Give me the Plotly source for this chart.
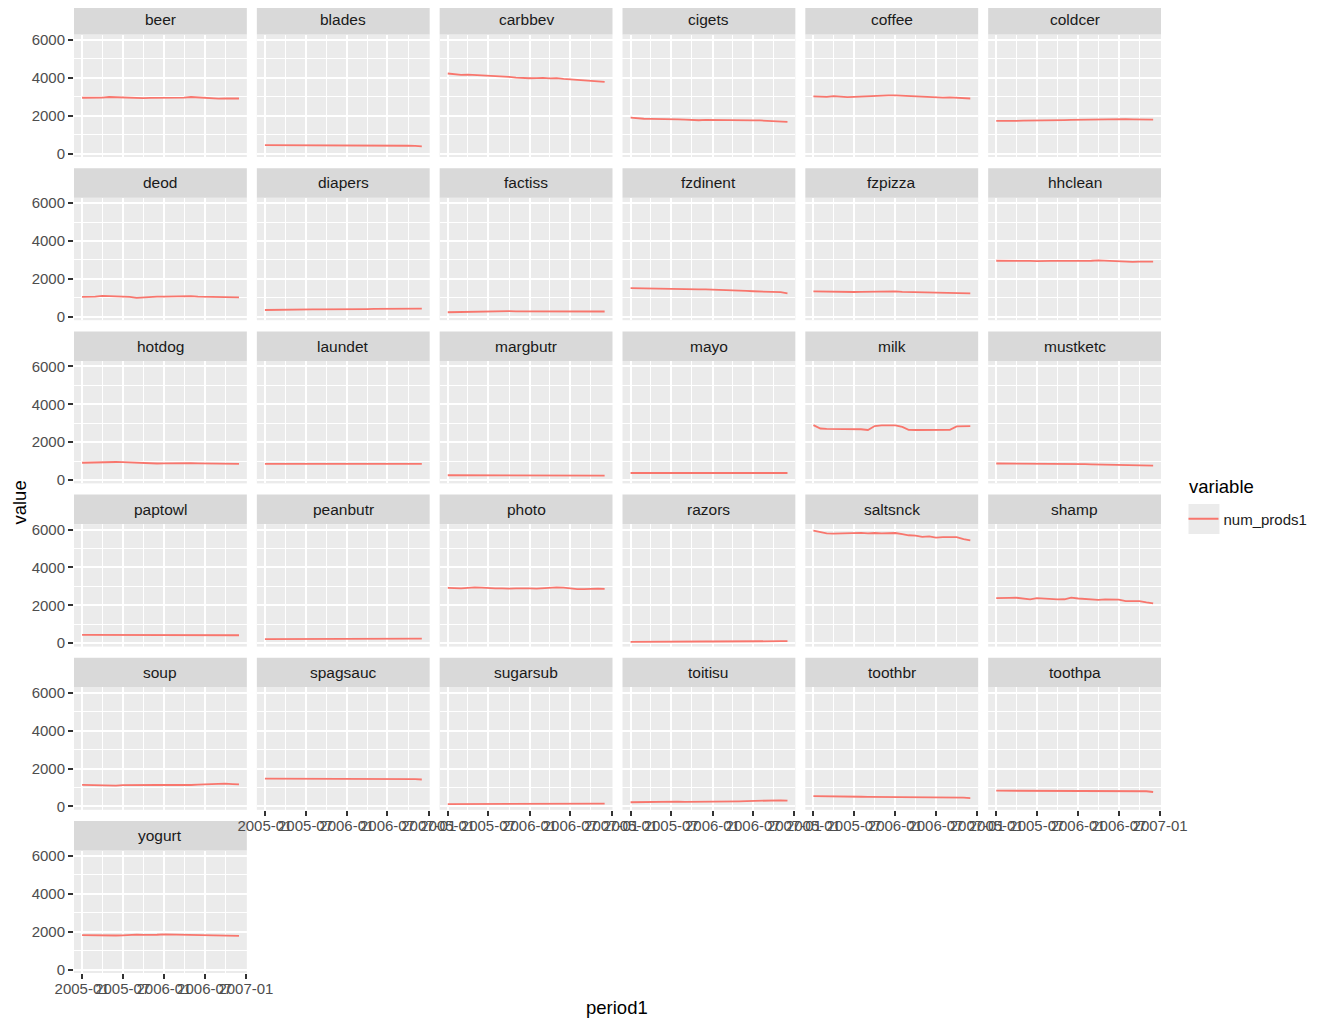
import plotly.graph_objects as go

# ---------------- data ----------------
months = ["2005-%02d-01" % m for m in range(1, 13)] + ["2006-%02d-01" % m for m in range(1, 13)]

categories = ["beer", "blades", "carbbev", "cigets", "coffee", "coldcer",
              "deod", "diapers", "factiss", "fzdinent", "fzpizza", "hhclean",
              "hotdog", "laundet", "margbutr", "mayo", "milk", "mustketc",
              "paptowl", "peanbutr", "photo", "razors", "saltsnck", "shamp",
              "soup", "spagsauc", "sugarsub", "toitisu", "toothbr", "toothpa",
              "yogurt"]

beer = [2950, 2940, 2940, 2960, 2990, 2980, 2940, 2930, 2930, 2930, 2940, 2940, 2950, 2950, 2950, 2960, 2990, 2970, 2950, 2910, 2900, 2920, 2930, 2910]
blades = [450, 450, 445, 445, 440, 440, 440, 440, 440, 440, 440, 445, 450, 440, 430, 430, 425, 420, 420, 420, 420, 415, 410, 380]
carbbev = [4230, 4180, 4160, 4170, 4150, 4160, 4140, 4120, 4100, 4050, 4010, 3990, 3980, 3990, 4000, 3970, 3990, 3950, 3930, 3900, 3880, 3860, 3830, 3790]
cigets = [1900, 1850, 1840, 1830, 1830, 1830, 1820, 1810, 1790, 1770, 1760, 1780, 1770, 1760, 1780, 1770, 1770, 1760, 1750, 1750, 1740, 1730, 1710, 1680]
coffee = [3020, 3010, 3000, 3030, 3000, 2980, 3000, 3020, 3020, 3060, 3090, 3080, 3070, 3050, 3020, 3000, 3000, 2990, 2970, 2960, 2970, 2950, 2940, 2910]
coldcer = [1730, 1720, 1720, 1730, 1740, 1740, 1750, 1760, 1770, 1770, 1770, 1780, 1790, 1800, 1800, 1810, 1810, 1820, 1820, 1820, 1810, 1800, 1800, 1790]
deod = [1050, 1040, 1060, 1100, 1090, 1080, 1070, 1050, 1000, 1030, 1050, 1060, 1070, 1080, 1090, 1100, 1090, 1070, 1060, 1080, 1070, 1060, 1050, 1030]
diapers = [360, 370, 380, 380, 380, 390, 390, 390, 390, 390, 380, 380, 390, 390, 400, 410, 420, 420, 430, 430, 440, 440, 440, 430]
factiss = [240, 250, 260, 270, 270, 280, 290, 290, 300, 300, 290, 290, 280, 280, 270, 270, 270, 280, 280, 290, 290, 300, 300, 280]
fzdinent = [1510, 1500, 1500, 1490, 1490, 1480, 1480, 1470, 1470, 1460, 1450, 1450, 1440, 1440, 1430, 1410, 1390, 1370, 1350, 1340, 1330, 1320, 1300, 1240]
fzpizza = [1340, 1330, 1320, 1310, 1300, 1310, 1310, 1320, 1330, 1340, 1350, 1350, 1340, 1320, 1310, 1300, 1290, 1290, 1280, 1280, 1270, 1260, 1260, 1240]
hhclean = [2960, 2960, 2970, 2980, 2970, 2950, 2940, 2930, 2950, 2950, 2950, 2940, 2930, 2930, 2960, 2980, 2960, 2950, 2920, 2900, 2900, 2910, 2920, 2910]
hotdog = [910, 920, 940, 960, 960, 950, 940, 920, 900, 880, 870, 870, 880, 890, 900, 900, 890, 880, 880, 870, 860, 860, 850, 850]
laundet = [850, 850, 850, 850, 850, 850, 850, 850, 850, 850, 845, 845, 850, 855, 860, 860, 860, 860, 865, 870, 875, 870, 860, 850]
margbutr = [250, 250, 250, 245, 245, 245, 245, 240, 240, 240, 240, 240, 240, 240, 240, 240, 240, 235, 235, 235, 235, 235, 235, 230]
mayo = [370, 370, 370, 365, 360, 360, 355, 355, 350, 350, 350, 355, 360, 370, 380, 380, 380, 380, 380, 375, 375, 375, 375, 370]
milk = [2900, 2720, 2700, 2700, 2700, 2690, 2690, 2680, 2640, 2850, 2880, 2890, 2880, 2800, 2650, 2640, 2640, 2640, 2640, 2640, 2650, 2830, 2850, 2840]
mustketc = [870, 870, 870, 870, 870, 860, 860, 860, 850, 850, 850, 840, 840, 840, 830, 820, 820, 820, 810, 800, 800, 790, 780, 760]
paptowl = [440, 440, 435, 430, 430, 425, 425, 425, 420, 420, 420, 420, 425, 430, 435, 440, 440, 435, 430, 430, 425, 425, 425, 420]
peanbutr = [220, 220, 225, 225, 225, 230, 230, 230, 230, 235, 235, 240, 240, 240, 245, 245, 245, 250, 250, 250, 250, 250, 250, 245]
photo = [2920, 2900, 2890, 2920, 2950, 2930, 2900, 2890, 2900, 2880, 2900, 2910, 2900, 2880, 2900, 2930, 2950, 2930, 2890, 2860, 2860, 2880, 2880, 2870]
razors = [70, 75, 75, 80, 80, 80, 85, 85, 85, 90, 90, 90, 90, 95, 95, 95, 95, 100, 100, 100, 100, 105, 105, 105]
saltsnck = [5950, 5850, 5800, 5790, 5800, 5790, 5810, 5830, 5800, 5820, 5800, 5810, 5820, 5760, 5700, 5680, 5620, 5640, 5580, 5600, 5580, 5600, 5500, 5430]
shamp = [2380, 2370, 2390, 2400, 2350, 2320, 2380, 2350, 2340, 2310, 2320, 2410, 2360, 2330, 2300, 2290, 2310, 2310, 2300, 2220, 2230, 2220, 2150, 2100]
soup = [1140, 1130, 1100, 1080, 1070, 1100, 1120, 1130, 1130, 1130, 1130, 1130, 1130, 1130, 1120, 1110, 1130, 1150, 1170, 1190, 1210, 1200, 1180, 1160]
spagsauc = [1470, 1470, 1470, 1465, 1460, 1460, 1460, 1455, 1455, 1455, 1450, 1450, 1450, 1450, 1450, 1450, 1450, 1450, 1445, 1445, 1440, 1440, 1440, 1420]
sugarsub = [120, 120, 125, 125, 125, 125, 130, 130, 130, 130, 130, 130, 130, 130, 130, 135, 135, 135, 135, 140, 140, 145, 145, 150]
toitisu = [220, 230, 240, 250, 250, 250, 250, 250, 240, 240, 240, 250, 250, 260, 260, 270, 270, 280, 290, 300, 320, 330, 320, 300]
toothbr = [540, 540, 530, 530, 530, 520, 520, 510, 500, 500, 500, 500, 500, 490, 490, 500, 500, 500, 500, 490, 480, 470, 460, 440]
toothpa = [830, 830, 830, 830, 830, 830, 820, 830, 820, 810, 800, 790, 790, 790, 790, 790, 800, 800, 800, 800, 810, 810, 800, 760]
yogurt = [1820, 1810, 1810, 1800, 1800, 1800, 1810, 1840, 1850, 1830, 1820, 1840, 1860, 1850, 1840, 1830, 1820, 1820, 1830, 1830, 1820, 1800, 1790, 1780]

series = [beer, blades, carbbev, cigets, coffee, coldcer,
          deod, diapers, factiss, fzdinent, fzpizza, hhclean,
          hotdog, laundet, margbutr, mayo, milk, mustketc,
          paptowl, peanbutr, photo, razors, saltsnck, shamp,
          soup, spagsauc, sugarsub, toitisu, toothbr, toothpa,
          yogurt]

y_ticks = [0, 2000, 4000, 6000]
x_tick_labels = ["2005-01", "2005-07", "2006-01", "2006-07", "2007-01"]

# ---------------- layout geometry (screen pixels) ----------------
OFF = 8  # page body margin that offsets the figure
W, H = 1327 - OFF, 1021 - OFF
NCOL = 6
col_left0, col_step, col_w = 73.5, 183.0, 173.0
row_top0, row_step, strip_h, row_h = 5.0, 163.2, 29.5, 152.0

ML = col_left0 - OFF
MR = W - (col_left0 + 5 * col_step + col_w - OFF)
MT = 0
MB = H - (row_top0 + 5 * row_step + row_h - OFF)
PW = W - ML - MR
PH = H - MT - MB


def px(x):
    return (x - OFF - ML) / PW


def py(y):
    return 1 - (y - OFF - MT) / PH


LINE_COL = "#F8766D"
FONT = "Liberation Sans, Arial, sans-serif"

fig = go.Figure()
layout = dict(
    width=W, height=H,
    margin=dict(l=ML, r=MR, t=MT, b=MB, pad=0, autoexpand=False),
    paper_bgcolor="white",
    plot_bgcolor="#EBEBEB",
    font=dict(family=FONT, color="#4D4D4D", size=15),
    showlegend=True,
    shapes=[], annotations=[],
)

n = len(categories)
last_row_for_col = {}
for k in range(n):
    r, c = divmod(k, NCOL)
    last_row_for_col[c] = r

for k, (cat, vals) in enumerate(zip(categories, series)):
    r, c = divmod(k, NCOL)
    idx = k + 1
    xs = "x" if idx == 1 else "x%d" % idx
    ys = "y" if idx == 1 else "y%d" % idx
    xl = "xaxis" if idx == 1 else "xaxis%d" % idx
    yl = "yaxis" if idx == 1 else "yaxis%d" % idx

    left = col_left0 + c * col_step
    right = left + col_w
    strip_top = row_top0 + r * row_step
    panel_top = strip_top + strip_h
    panel_bot = strip_top + row_h

    fig.add_trace(go.Scatter(
        x=months, y=vals, mode="lines", xaxis=xs, yaxis=ys,
        line=dict(color=LINE_COL, width=1.8),
        name="num_prods1", legendgroup="num_prods1",
        showlegend=(k == 0), hoverinfo="x+y",
    ))

    show_x = (last_row_for_col[c] == r)
    show_y = (c == 0)

    layout[xl] = dict(
        type="date",
        domain=[max(px(left), 0), min(px(right), 1)],
        anchor=ys,
        range=["2004-11-26", "2007-01-05"],
        tickmode="array",
        tickvals=["2005-01-01", "2005-07-01", "2006-01-01", "2006-07-01", "2007-01-01"],
        ticktext=x_tick_labels,
        tickangle=0,
        showticklabels=show_x,
        ticks="outside" if show_x else "",
        ticklen=5, tickwidth=1.6, tickcolor="#333333",
        ticklabelstandoff=-3,
        tickfont=dict(size=15, color="#4D4D4D", family=FONT),
        showgrid=True, gridcolor="white", gridwidth=2,
        minor=dict(tickmode="array",
                   tickvals=["2005-04-01", "2005-10-01", "2006-04-01", "2006-10-01"],
                   showgrid=True, gridcolor="white", gridwidth=1, ticks=""),
        zeroline=False, showline=False, fixedrange=True, automargin=False,
    )
    layout[yl] = dict(
        domain=[max(py(panel_bot), 0), min(py(panel_top), 1)],
        anchor=xs,
        range=[-180, 6290],
        tickmode="array",
        tickvals=y_ticks,
        ticktext=[str(v) for v in y_ticks],
        showticklabels=show_y,
        ticks="outside" if show_y else "",
        ticklen=5, tickwidth=1.6, tickcolor="#333333",
        tickfont=dict(size=15, color="#4D4D4D", family=FONT),
        showgrid=True, gridcolor="white", gridwidth=2,
        minor=dict(tickmode="array", tickvals=[1000, 3000, 5000],
                   showgrid=True, gridcolor="white", gridwidth=1, ticks=""),
        zeroline=False, showline=False, fixedrange=True, automargin=False,
    )

    # facet strip
    layout["shapes"].append(dict(
        type="rect", xref="paper", yref="paper", layer="below",
        x0=px(left), x1=px(right), y0=py(panel_top), y1=min(py(strip_top), 1),
        fillcolor="#D9D9D9", line=dict(width=0),
    ))
    layout["annotations"].append(dict(
        text=cat, xref="paper", yref="paper",
        x=px((left + right) / 2), y=py((strip_top + panel_top) / 2),
        xanchor="center", yanchor="middle", showarrow=False,
        font=dict(size=15.5, color="#1A1A1A", family=FONT),
    ))

# axis titles
layout["annotations"].append(dict(
    text="value", xref="paper", yref="paper", x=px(18), y=py(503),
    xanchor="center", yanchor="middle", textangle=-90, showarrow=False,
    font=dict(size=18.5, color="#000000", family=FONT),
))
layout["annotations"].append(dict(
    text="period1", xref="paper", yref="paper", x=px(617), y=py(1008),
    xanchor="center", yanchor="middle", showarrow=False,
    font=dict(size=18.5, color="#000000", family=FONT),
))

# legend title
layout["annotations"].append(dict(
    text="variable", xref="paper", yref="paper", x=px(1188), y=py(486),
    xanchor="left", yanchor="middle", showarrow=False,
    font=dict(size=18.5, color="#000000", family=FONT),
))

# legend key background (ggplot style grey key)
layout["shapes"].append(dict(
    type="rect", xref="paper", yref="paper", layer="above",
    x0=px(1189), x1=px(1220), y0=py(534), y1=py(504),
    fillcolor="#EBEBEB", line=dict(width=0),
))

layout["legend"] = dict(
    font=dict(size=15, color="#1A1A1A", family=FONT),
    x=px(1184), y=py(519), xanchor="left", yanchor="middle",
    bgcolor="rgba(0,0,0,0)", borderwidth=0,
    itemwidth=30, tracegroupgap=0,
)

fig.update_layout(**layout)
fig.write_html("out.html")
